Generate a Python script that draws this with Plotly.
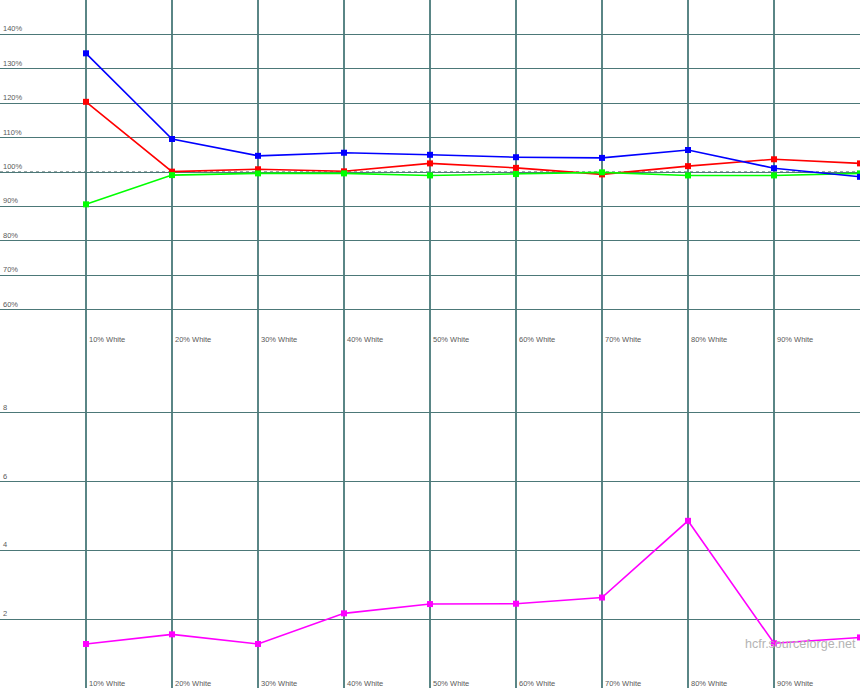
import plotly.graph_objects as go

levels = [10, 20, 30, 40, 50, 60, 70, 80, 90, 100]
# the 100% label falls past the right edge in the reference, so only 10-90% are labelled
label_levels = [10, 20, 30, 40, 50, 60, 70, 80, 90]
level_labels = ["10% White", "20% White", "30% White", "40% White", "50% White",
                "60% White", "70% White", "80% White", "90% White"]

red = [120.4, 100.1, 100.8, 100.2, 102.5, 101.2, 99.3, 101.7, 103.7, 102.5]
green = [90.6, 99.1, 99.6, 99.6, 99.0, 99.4, 99.9, 99.0, 99.0, 99.6]
blue = [134.5, 109.6, 104.7, 105.6, 105.0, 104.3, 104.1, 106.4, 101.1, 98.6]
delta_e = [1.28, 1.56, 1.28, 2.17, 2.44, 2.45, 2.63, 4.86, 1.30, 1.47]

top_ticks = [60, 70, 80, 90, 100, 110, 120, 130, 140]
top_tick_text = ["60%", "70%", "80%", "90%", "100%", "110%", "120%", "130%", "140%"]
bot_ticks = [2, 4, 6, 8]
bot_tick_text = ["2", "4", "6", "8"]

GRID = "#4c7878"
VGRID = "#5a8686"
LBL = "#5a5a5a"
FONT = "Liberation Sans, Arial, sans-serif"

fig = go.Figure()

for vals, col in [(red, "#ff0000"), (green, "#00ff00"), (blue, "#0000ff")]:
    fig.add_trace(go.Scatter(x=levels, y=vals, mode="lines+markers",
                             line=dict(color=col, width=1.6),
                             marker=dict(symbol="square", size=6, color=col),
                             xaxis="x", yaxis="y", showlegend=False, hoverinfo="skip"))

fig.add_trace(go.Scatter(x=levels, y=delta_e, mode="lines+markers",
                         line=dict(color="#ff00ff", width=1.6),
                         marker=dict(symbol="square", size=6, color="#ff00ff"),
                         xaxis="x2", yaxis="y2", showlegend=False, hoverinfo="skip"))

xcommon = dict(range=[0, 100], tickvals=[0, 10, 20, 30, 40, 50, 60, 70, 80, 90, 100],
               showgrid=True, gridcolor=VGRID, gridwidth=2, showticklabels=False,
               zeroline=False, showline=False, ticks="", fixedrange=True)

fig.update_layout(
    width=860, height=688,
    margin=dict(l=0, r=0, t=0, b=0),
    paper_bgcolor="white", plot_bgcolor="white",
    xaxis=dict(anchor="y", **xcommon),
    xaxis2=dict(anchor="y2", **xcommon),
    yaxis=dict(domain=[0.5, 1.0], range=[50, 150], tickvals=top_ticks,
               showgrid=True, gridcolor=GRID, gridwidth=1.3, showticklabels=False,
               zeroline=False, showline=False, ticks=""),
    yaxis2=dict(domain=[0.0, 0.5], range=[0, 10], tickvals=bot_ticks,
                showgrid=True, gridcolor=GRID, gridwidth=1.3, showticklabels=False,
                zeroline=False, showline=False, ticks=""),
    showlegend=False,
)

# dotted 100% reference line
fig.add_shape(type="line", xref="x", yref="y", x0=0, x1=100, y0=100, y1=100,
              line=dict(color="#7a8a8a", width=1.5, dash="dot"), layer="below")

anns = []
for v, t in zip(top_ticks, top_tick_text):
    anns.append(dict(x=0, y=v, xref="paper", yref="y", text=t, showarrow=False,
                     xanchor="left", yanchor="bottom", xshift=1, yshift=-1,
                     font=dict(family=FONT, size=7.5, color=LBL)))
for v, t in zip(bot_ticks, bot_tick_text):
    anns.append(dict(x=0, y=v, xref="paper", yref="y2", text=t, showarrow=False,
                     xanchor="left", yanchor="bottom", xshift=1, yshift=-1,
                     font=dict(family=FONT, size=7.5, color=LBL)))
for lv, lab in zip(label_levels, level_labels):
    anns.append(dict(x=lv, y=51.2, xref="x", yref="y", text=lab, showarrow=False,
                     xanchor="left", yanchor="middle", xshift=1,
                     font=dict(family=FONT, size=7.5, color=LBL)))
    anns.append(dict(x=lv, y=0.12, xref="x2", yref="y2", text=lab, showarrow=False,
                     xanchor="left", yanchor="middle", xshift=1,
                     font=dict(family=FONT, size=7.5, color=LBL)))
anns.append(dict(x=1, y=1.27, xref="paper", yref="y2", text="hcfr.sourceforge.net",
                 showarrow=False, xanchor="right", yanchor="middle", xshift=-2,
                 font=dict(family=FONT, size=12.5, color="#b4b4b4")))
fig.update_layout(annotations=anns)

fig.write_html("out.html", config={"displayModeBar": False},
               post_script="document.body.style.margin='0px';document.body.style.overflow='hidden';")
